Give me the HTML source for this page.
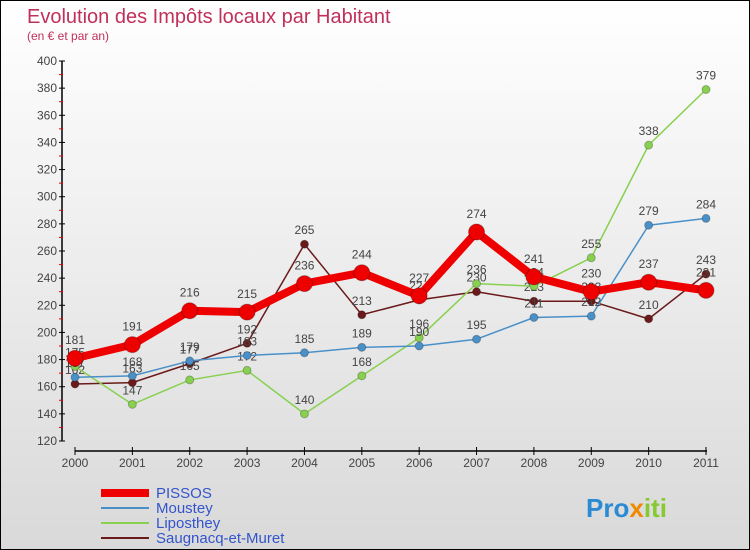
<!DOCTYPE html>
<html><head><meta charset="utf-8"><style>
body{margin:0;}
#c{width:748px;height:548px;border:1px solid #000;background:linear-gradient(#fff,#d9d9d9);position:relative;font-family:"Liberation Sans",sans-serif;overflow:hidden}
</style></head><body>
<div id="c">
<svg id="s" width="748" height="548" xmlns="http://www.w3.org/2000/svg">
<text x="26" y="22" font-size="20" fill="#c0305a">Evolution des Impôts locaux par Habitant</text>
<text x="26" y="39" font-size="12" fill="#c0305a">(en € et par an)</text>
<g id="g"></g>
<text x="585" y="516" font-size="26" font-weight="bold" fill="#2a8ad4">Pro<tspan fill="#f08a00">x</tspan><tspan fill="#88c830">iti</tspan></text>
</svg>
</div>
<script>
const years=["2000","2001","2002","2003","2004","2005","2006","2007","2008","2009","2010","2011"];
const yTicks=[120,140,160,180,200,220,240,260,280,300,320,340,360,380,400];
const pissos=[181,191,216,215,236,244,227,274,241,230,237,231];
const moustey=[167,168,179,183,185,189,190,195,211,212,279,284];
const liposthey=[175,147,165,172,140,168,196,236,234,255,338,379];
const saugnacq=[162,163,177,192,265,213,224,230,223,223,210,243];
const series=[
 {name:"PISSOS",data:pissos,color:"#ee0000",w:8,r:8,key:"pissos"},
 {name:"Moustey",data:moustey,color:"#4a90c8",w:1.5,r:4,key:"moustey"},
 {name:"Liposthey",data:liposthey,color:"#88d050",w:1.5,r:4,key:"liposthey"},
 {name:"Saugnacq-et-Muret",data:saugnacq,color:"#6a1a1a",w:1.5,r:4,key:"saugnacq"}];
const NS="http://www.w3.org/2000/svg";
const g=document.getElementById('g');
const X=i=>74+i*(705-74)/(years.length-1);
const Y=v=>60+(400-v)*(380/280);
function mk(t,a,p){const e=document.createElementNS(NS,t);for(const k in a)e.setAttribute(k,a[k]);(p||g).appendChild(e);return e;}
let ax=mk('line',{x1:61,y1:60,x2:61,y2:440,stroke:'#000','stroke-width':1.5});


let xa=mk('line',{x1:74,y1:450,x2:706,y2:450,stroke:'#000','stroke-width':1.5});


yTicks.forEach(v=>{
 mk('line',{x1:58,y1:Y(v),x2:64,y2:Y(v),stroke:'#000'});
 if(v<400)mk('line',{x1:58,y1:Y(v+10),x2:62,y2:Y(v+10),stroke:'#e00'});
 const t=mk('text',{x:56,y:Y(v)+4,'font-size':12,fill:'#444','text-anchor':'end'});t.textContent=v;
 
 
});
years.forEach((y,i)=>{
 mk('line',{x1:X(i),y1:446,x2:X(i),y2:454,stroke:'#000'});
 const t=mk('text',{x:X(i),y:466,'font-size':12,fill:'#444','text-anchor':'middle'});t.textContent=y;
 
 
});
[...series].reverse().forEach(s=>{
 const p=mk('polyline',{points:s.data.map((v,i)=>X(i)+','+Y(v)).join(' '),fill:'none',stroke:s.color,'stroke-width':s.w,'stroke-linejoin':'round'});
 
 
 s.data.forEach((v,i)=>{
  const c=mk('circle',{cx:X(i),cy:Y(v),r:s.r,fill:s.color,stroke:'rgba(0,0,0,0.25)'});
  
  
  const t=mk('text',{x:X(i),y:Y(v)-(s.r+6),'font-size':12,fill:'#444','text-anchor':'middle'});t.textContent=v;
  
  
 });
});
series.forEach((s,k)=>{
 const y=492+k*15;
 const l=mk('line',{x1:100,y1:y,x2:148,y2:y,stroke:s.color,'stroke-width':s.w===8?8:2});
 
 
 const t=mk('text',{x:155,y:y+5,'font-size':15,fill:'#3355cc'});t.textContent=s.name;
 
 
});
</script>
</body></html>
